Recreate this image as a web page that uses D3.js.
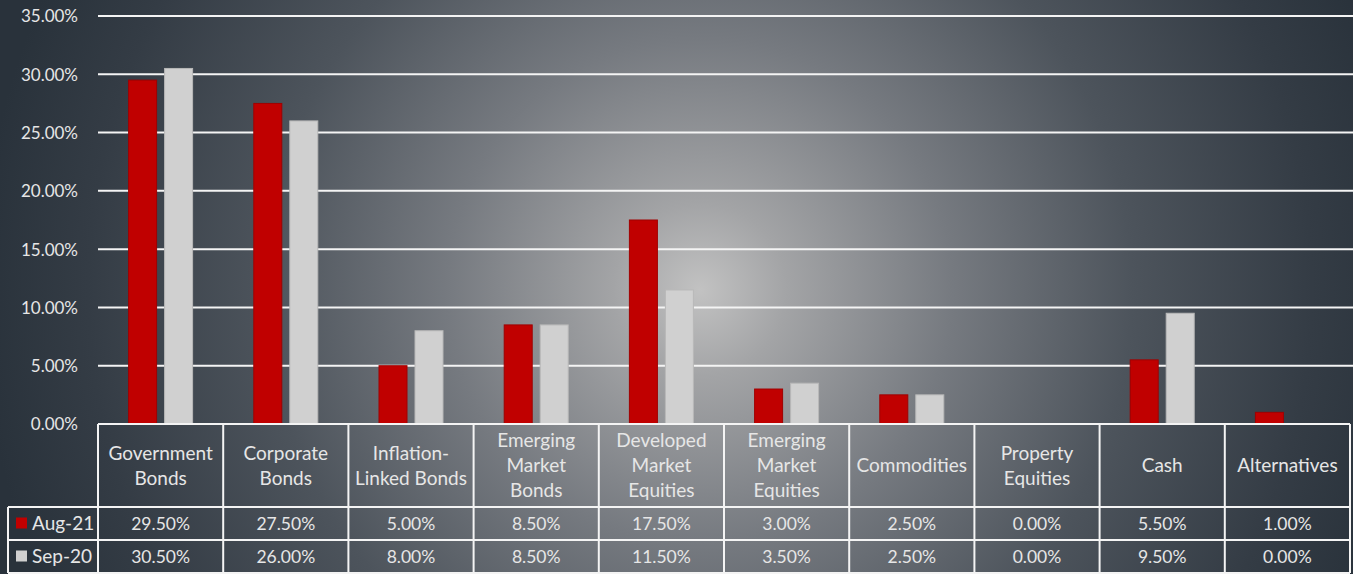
<!DOCTYPE html>
<html><head><meta charset="utf-8">
<script src="https://cdn.jsdelivr.net/npm/d3@7"></script>
<style>html,body{margin:0;padding:0;background:#29323b;}svg{display:block;}</style>
</head><body>
<svg id="chart" width="1353" height="574"></svg>
<script>
const categories = ["Government Bonds","Corporate Bonds","Inflation-Linked Bonds","Emerging Market Bonds","Developed Market Equities","Emerging Market Equities","Commodities","Property Equities","Cash","Alternatives"];
const headerLines = [["Government","Bonds"],["Corporate","Bonds"],["Inflation-","Linked Bonds"],["Emerging","Market","Bonds"],["Developed","Market","Equities"],["Emerging","Market","Equities"],["Commodities"],["Property","Equities"],["Cash"],["Alternatives"]];
const seriesNames = ["Aug-21","Sep-20"];
const aug21 = [29.5,27.5,5.0,8.5,17.5,3.0,2.5,0.0,5.5,1.0];
const sep20 = [30.5,26.0,8.0,8.5,11.5,3.5,2.5,0.0,9.5,0.0];
const yTicks = [0,5,10,15,20,25,30,35];
const colors = ["#c00000","#d0d0d0"];
const strokes = ["#a00000","#b8b8b8"];

const W=1353,H=574;
const svg=d3.select("#chart");
const defs=svg.append("defs");
const grad=defs.append("radialGradient").attr("id","bg").attr("gradientUnits","userSpaceOnUse")
  .attr("cx",700).attr("cy",290).attr("r",720);
[[0,"#c2c2c2"],[0.12,"#a3a4a6"],[0.35,"#767a80"],[0.6,"#4d545c"],[0.85,"#343c45"],[1,"#29323b"]]
  .forEach(([o,c])=>grad.append("stop").attr("offset",o).attr("stop-color",c));
svg.append("rect").attr("width",W).attr("height",H).attr("fill","url(#bg)");

const font="Lato, 'Open Sans', sans-serif";
const textCol="#e6e6e6";
const x=d3.scaleBand().domain(categories).range([98,1350]).padding(0);
const y=d3.scaleLinear().domain([0,35]).range([424,16]);
const xi=d3.scaleBand().domain(seriesNames).range([x.bandwidth()/2-32,x.bandwidth()/2+32]).paddingInner(8/36).paddingOuter(0);

// gridlines
svg.append("g").selectAll("line").data(yTicks.filter(t=>t>0)).join("line")
  .attr("x1",98).attr("x2",W).attr("y1",d=>y(d)).attr("y2",d=>y(d))
  .attr("stroke","#f4f4f4").attr("stroke-width",2);

// y axis labels
const yAxis=d3.axisLeft(y).tickValues(yTicks).tickSize(0).tickPadding(0).tickFormat(d=>d3.format(".2f")(d)+"%");
const ga=svg.append("g").attr("transform","translate(78,0)").call(yAxis);
ga.select(".domain").remove();
ga.selectAll("text").attr("fill",textCol).attr("font-family",font).attr("font-size",17).attr("dy","0.35em");

// bars
const data=categories.map((c,i)=>({cat:c,vals:[aug21[i],sep20[i]]}));
const gb=svg.append("g").selectAll("g").data(data).join("g").attr("transform",d=>`translate(${x(d.cat)},0)`);
gb.selectAll("rect").data(d=>d.vals.map((v,k)=>({v,k})).filter(e=>e.v>0)).join("rect")
  .attr("x",d=>xi(seriesNames[d.k])).attr("width",xi.bandwidth())
  .attr("y",d=>y(d.v)).attr("height",d=>y(0)-y(d.v))
  .attr("fill",d=>colors[d.k]).attr("stroke",d=>strokes[d.k]).attr("stroke-width",1);

// table
const tTop=424, hBot=507, r1=540, r2=573;
const tg=svg.append("g");
const lineAttr=s=>s.attr("stroke","#f4f4f4").attr("stroke-width",2);
lineAttr(tg.append("line").attr("x1",98).attr("x2",1350).attr("y1",tTop).attr("y2",tTop));
[hBot,r1,r2].forEach(yy=>lineAttr(tg.append("line").attr("x1",8).attr("x2",1350).attr("y1",yy).attr("y2",yy)));
const vx=categories.map(c=>x(c)).concat([1350]);
vx.forEach(xx=>lineAttr(tg.append("line").attr("x1",xx).attr("x2",xx).attr("y1",tTop).attr("y2",r2)));
lineAttr(tg.append("line").attr("x1",8).attr("x2",8).attr("y1",hBot).attr("y2",r2));

// header text
categories.forEach((c,i)=>{
  const lines=headerLines[i];
  const cx=x(c)+x.bandwidth()/2;
  const mid=(tTop+hBot)/2;
  const lh=25;
  const t=tg.append("text").attr("text-anchor","middle").attr("fill",textCol).attr("font-family",font).attr("font-size",19);
  lines.forEach((l,j)=>{
    t.append("tspan").attr("x",cx).attr("y",mid+(j-(lines.length-1)/2)*lh).attr("dy","0.35em").text(l);
  });
});
// values
const rows=[aug21,sep20];
const rowMid=[(hBot+r1)/2,(r1+r2)/2];
rows.forEach((vals,k)=>{
  tg.append("g").selectAll("text").data(vals).join("text")
    .attr("x",(d,i)=>x(categories[i])+x.bandwidth()/2).attr("y",rowMid[k]).attr("dy","0.35em")
    .attr("text-anchor","middle").attr("fill",textCol).attr("font-family",font).attr("font-size",17.5)
    .text(d=>d3.format(".2f")(d)+"%");
  tg.append("rect").attr("x",16).attr("y",rowMid[k]-6).attr("width",11).attr("height",11).attr("fill",colors[k]);
  tg.append("text").attr("x",32).attr("y",rowMid[k]).attr("dy","0.35em").attr("fill",textCol)
    .attr("font-family",font).attr("font-size",19).text(seriesNames[k]);
});
</script>
</body></html>
